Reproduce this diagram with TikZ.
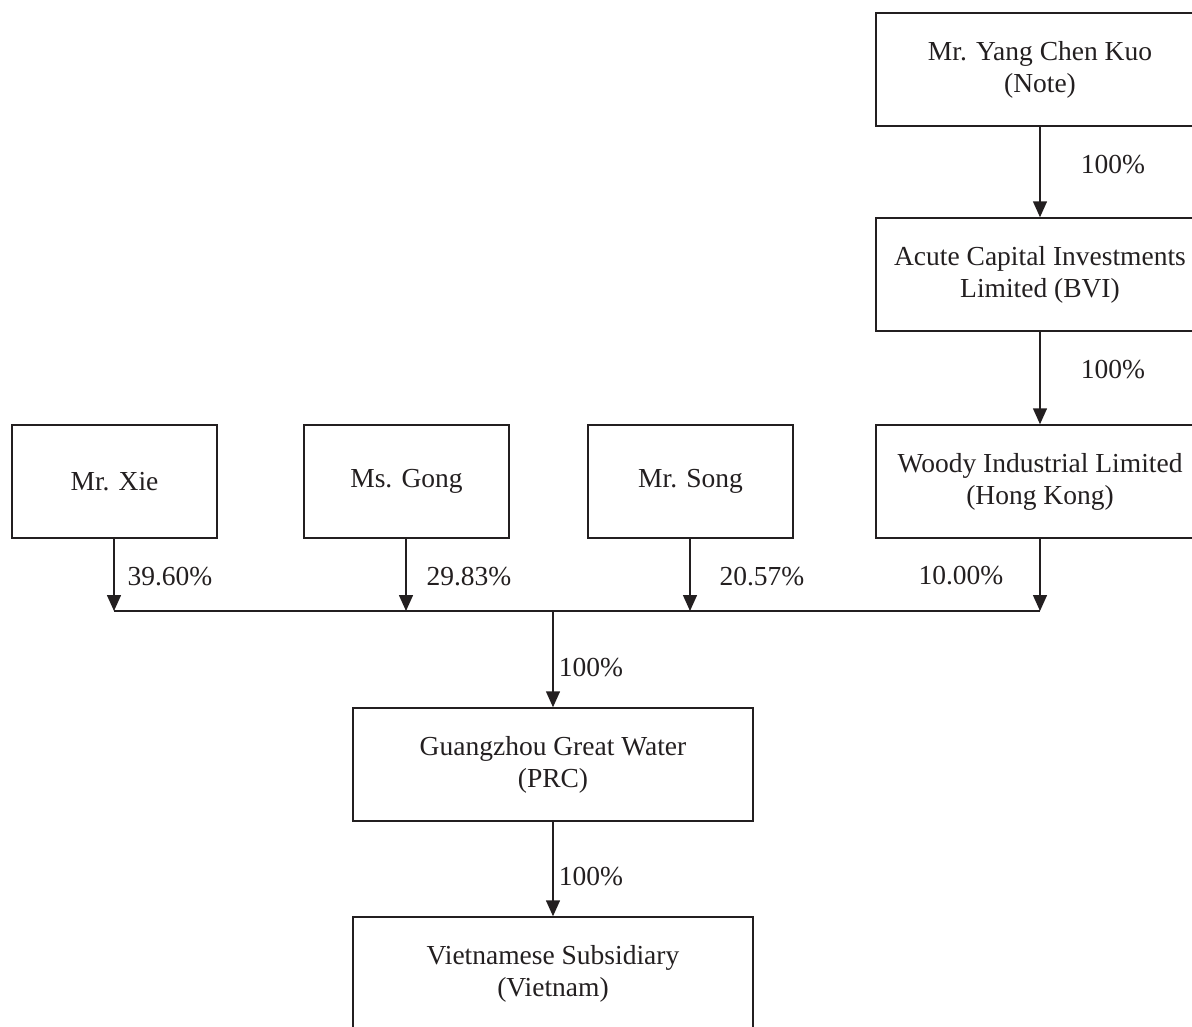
\documentclass[tikz,border=0pt]{standalone}
\usepackage{fontspec}
\setmainfont{Liberation Serif}
\usetikzlibrary{arrows.meta}
\begin{document}
\begin{tikzpicture}[x=1pt,y=-1pt,
  box/.style={draw=ink, line width=1.5pt, align=center, inner sep=0pt, text=ink,
    font=\fontsize{27.5}{32}\selectfont},
  arr/.style={draw=ink, line width=1.5pt, -{Triangle[width=14pt,length=16pt]}},
  ln/.style={draw=ink, line width=1.5pt},
  lbl/.style={text=ink, font=\fontsize{27.5}{32}\selectfont, inner sep=0pt}]
\definecolor{ink}{HTML}{231F20}
\useasboundingbox (0,0) rectangle (1192,1026);
\clip (0,0) rectangle (1192,1026);
% right column
\node[box, minimum width=328pt, minimum height=113pt] (yang) at (1040,69.5) {Mr. Yang Chen Kuo\\(Note)};
\node[box, minimum width=328pt, minimum height=113pt] (acute) at (1040,274.5) {Acute Capital Investments\\Limited (BVI)};
\node[box, minimum width=328pt, minimum height=113pt] (woody) at (1040,481.5) {Woody Industrial Limited\\(Hong Kong)};
% shareholders
\node[box, minimum width=205pt, minimum height=113pt] (xie) at (114.5,481.5) {Mr. Xie};
\node[box, minimum width=205pt, minimum height=113pt] (gong) at (406.5,481.5) {Ms. Gong};
\node[box, minimum width=205pt, minimum height=113pt] (song) at (690.5,481.5) {Mr. Song};
% lower
\node[box, minimum width=400pt, minimum height=113pt] (gz) at (553,764.5) {Guangzhou Great Water\\(PRC)};
\node[box, minimum width=400pt, minimum height=113pt] (vn) at (553,973.5) {Vietnamese Subsidiary\\(Vietnam)};
% junction coordinates
\coordinate (jx) at (114,611);
\coordinate (jg) at (406,611);
\coordinate (js) at (690,611);
\coordinate (jw) at (1040,611);
\coordinate (jm) at (553,611);
% connectors
\draw[arr] (yang.south) -- (acute.north);
\draw[arr] (acute.south) -- (woody.north);
\draw[arr] (xie.south -| jx) -- (jx);
\draw[arr] (gong.south -| jg) -- (jg);
\draw[arr] (song.south -| js) -- (js);
\draw[arr] (woody.south -| jw) -- (jw);
\draw[ln] (jx) -- (jw);
\draw[arr] (jm) -- (gz.north);
\draw[arr] (gz.south) -- (vn.north);
% labels
\node[lbl] (l1) at (1113,165) {100\%};
\node[lbl] (l2) at (1113,370) {100\%};
\node[lbl] (l3) at (170,577) {39.60\%};
\node[lbl] (l4) at (469,577) {29.83\%};
\node[lbl] (l5) at (762,577) {20.57\%};
\node[lbl] (l6) at (961,576) {10.00\%};
\node[lbl] (l7) at (591,668) {100\%};
\node[lbl] (l8) at (591,877) {100\%};
\end{tikzpicture}
\end{document}
